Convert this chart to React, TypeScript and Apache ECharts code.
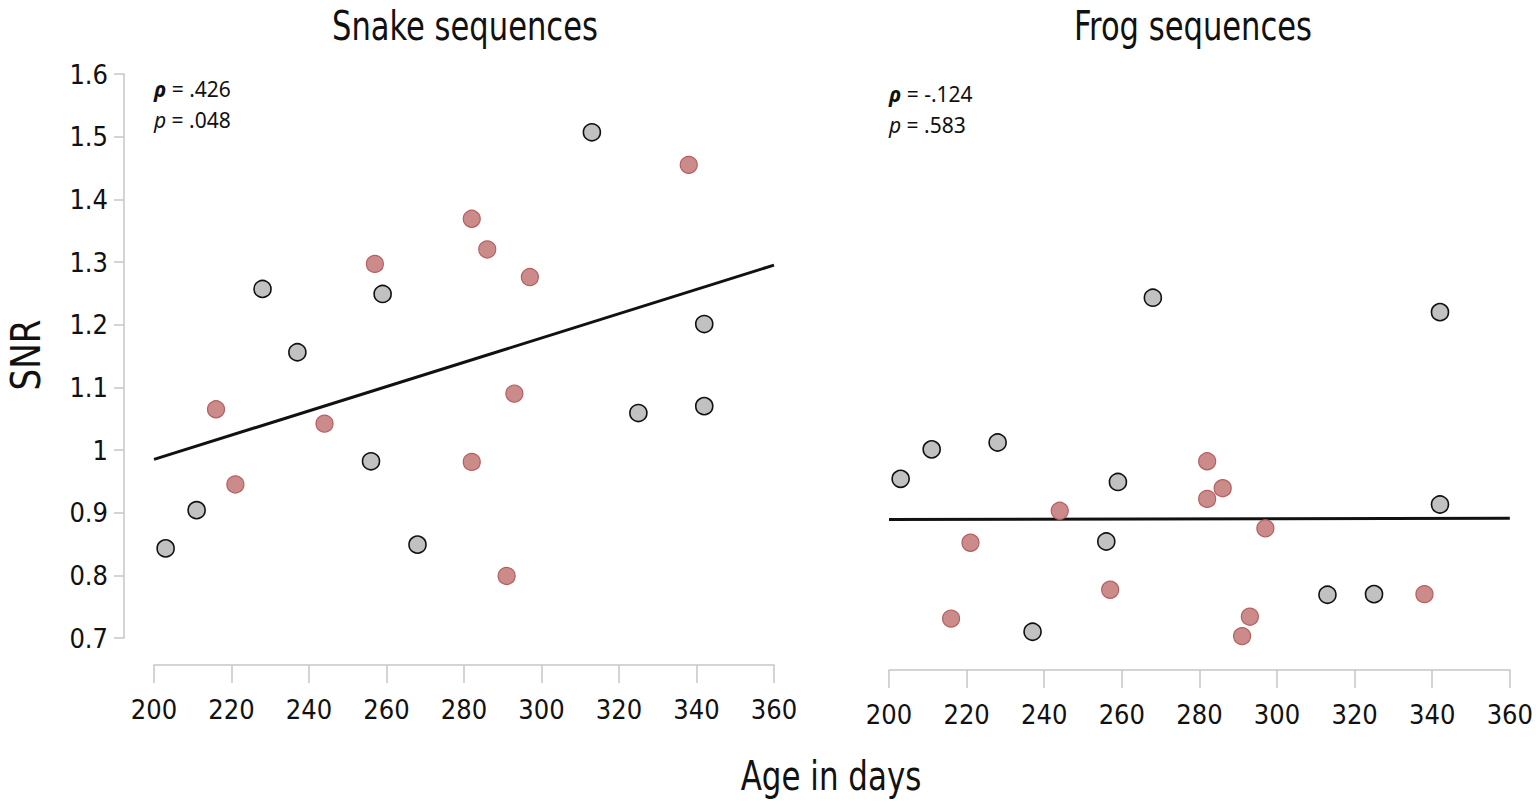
import { useEffect, useRef } from "react";
import * as echarts from "echarts";

// ---- data ----
const xTickMin = 200;
const xTickMax = 360;
const xTickStep = 20;
const yMin = 0.7;
const yMax = 1.6;
const yStep = 0.1;

const snakeGreyDays = [203, 211, 228, 237, 256, 259, 268, 313, 325, 342, 342];
const snakeGreySNR = [0.843, 0.904, 1.257, 1.156, 0.982, 1.249, 0.849, 1.507, 1.059, 1.201, 1.07];
const snakeRedDays = [216, 221, 244, 257, 282, 282, 286, 291, 293, 297, 338];
const snakeRedSNR = [1.065, 0.945, 1.042, 1.297, 1.369, 0.981, 1.32, 0.799, 1.09, 1.276, 1.455];

const frogGreyDays = [203, 211, 228, 237, 256, 259, 268, 313, 325, 342, 342];
const frogGreySNR = [0.954, 1.001, 1.012, 0.71, 0.854, 0.949, 1.243, 0.769, 0.77, 1.22, 0.913];
const frogRedDays = [216, 221, 244, 257, 282, 282, 286, 291, 293, 297, 338];
const frogRedSNR = [0.731, 0.852, 0.903, 0.777, 0.982, 0.922, 0.939, 0.703, 0.734, 0.875, 0.77];

const fitDays = [200, 360];
const snakeFitSNR = [0.985, 1.295];
const frogFitSNR = [0.889, 0.891];

const panelTitles = ["Snake sequences", "Frog sequences"];
const xAxisTitle = "Age in days";
const yAxisTitle = "SNR";
const snakeStats = { rho: ".426", p: ".048" };
const frogStats = { rho: "-.124", p: ".583" };

const NARROW = "'DejaVu Sans Condensed', sans-serif";
const SANS = "'Noto Sans', 'Open Sans', sans-serif";
const AXIS_GREY = "#c6c6c6";

const zip = (xs: number[], ys: number[]) => xs.map((x, i) => [x, ys[i]]);

function xAxisCfg(gridIndex: number, offset: number) {
  return {
    gridIndex,
    type: "value",
    min: xTickMin,
    max: xTickMax,
    interval: xTickStep,
    offset,
    axisLine: { show: true, onZero: false, lineStyle: { color: AXIS_GREY, width: 1.5 } },
    axisTick: { show: true, length: 18, lineStyle: { color: AXIS_GREY, width: 1.5 } },
    axisLabel: { fontFamily: NARROW, fontSize: 27, color: "#111", margin: 31 },
    splitLine: { show: false },
  };
}

function yAxisCfg(gridIndex: number, show: boolean) {
  return {
    gridIndex,
    type: "value",
    min: yMin,
    max: yMax,
    interval: yStep,
    show,
    offset: 30,
    axisLine: { show: true, lineStyle: { color: AXIS_GREY, width: 1.5 } },
    axisTick: { show: true, length: 10, lineStyle: { color: AXIS_GREY, width: 1.5 } },
    axisLabel: {
      fontFamily: NARROW,
      fontSize: 27,
      color: "#111",
      margin: 16,
      formatter: (v: number) => String(Math.round(v * 10) / 10),
    },
    splitLine: { show: false },
  };
}

function greyScatter(x: number[], y: number[], idx: number) {
  return {
    type: "scatter",
    xAxisIndex: idx,
    yAxisIndex: idx,
    data: zip(x, y),
    symbol: "circle",
    symbolSize: 17,
    z: 5,
    itemStyle: { color: "#c1c1c1", borderColor: "#111", borderWidth: 1.6, opacity: 1 },
  };
}

function redScatter(x: number[], y: number[], idx: number) {
  return {
    type: "scatter",
    xAxisIndex: idx,
    yAxisIndex: idx,
    data: zip(x, y),
    symbol: "circle",
    symbolSize: 17,
    z: 5,
    itemStyle: { color: "#cc8b8b", borderColor: "#b65f5f", borderWidth: 1.2, opacity: 1 },
  };
}

function fitLine(y: number[], idx: number) {
  return {
    type: "line",
    xAxisIndex: idx,
    yAxisIndex: idx,
    data: zip(fitDays, y),
    symbol: "none",
    z: 3,
    lineStyle: { color: "#111", width: 3 },
  };
}

function statText(x: number, y: number, stats: { rho: string; p: string }) {
  const base = { fontSize: 21, fontFamily: SANS, fill: "#111" };
  return [
    {
      type: "text",
      x,
      y,
      style: {
        text: "{r|ρ}{n| = " + stats.rho + "}",
        ...base,
        textVerticalAlign: "middle",
        rich: {
          r: { ...base, fontWeight: "bold", fontStyle: "italic" },
          n: { ...base },
        },
      },
    },
    {
      type: "text",
      x,
      y: y + 31,
      style: {
        text: "{i|p}{n| = " + stats.p + "}",
        ...base,
        textVerticalAlign: "middle",
        rich: {
          i: { ...base, fontStyle: "italic" },
          n: { ...base },
        },
      },
    },
  ];
}

function bigText(text: string, x: number, y: number, extra: any = {}) {
  return {
    type: "text",
    x,
    y,
    ...extra,
    style: {
      text,
      fontSize: 40,
      fontFamily: NARROW,
      fill: "#111",
      textAlign: "center",
      textVerticalAlign: "middle",
    },
  };
}

export default function App() {
  const ref = useRef<HTMLDivElement>(null);
  useEffect(() => {
    document.body.style.margin = "0";
    const chart = echarts.init(ref.current!, null, { renderer: "svg" });
    const option = {
      animation: false,
      backgroundColor: "#ffffff",
      grid: [
        { left: 154, top: 74, width: 620, height: 564 },
        { left: 889, top: 74, width: 622, height: 564 },
      ],
      xAxis: [xAxisCfg(0, 27), xAxisCfg(1, 32)],
      yAxis: [yAxisCfg(0, true), yAxisCfg(1, false)],
      series: [
        fitLine(snakeFitSNR, 0),
        greyScatter(snakeGreyDays, snakeGreySNR, 0),
        redScatter(snakeRedDays, snakeRedSNR, 0),
        fitLine(frogFitSNR, 1),
        greyScatter(frogGreyDays, frogGreySNR, 1),
        redScatter(frogRedDays, frogRedSNR, 1),
      ],
      graphic: [
        bigText(panelTitles[0], 465, 27, { scaleX: 0.85 }),
        bigText(panelTitles[1], 1193, 27, { scaleX: 0.85 }),
        bigText(xAxisTitle, 831, 776, { scaleX: 0.86 }),
        bigText(yAxisTitle, 26, 355, { rotation: Math.PI / 2, scaleX: 0.95 }),
        ...statText(154, 89, snakeStats),
        ...statText(889, 94, frogStats),
      ],
    };
    chart.setOption(option as any);
    return () => chart.dispose();
  }, []);
  return <div ref={ref} style={{ width: 1536, height: 809 }} />;
}
